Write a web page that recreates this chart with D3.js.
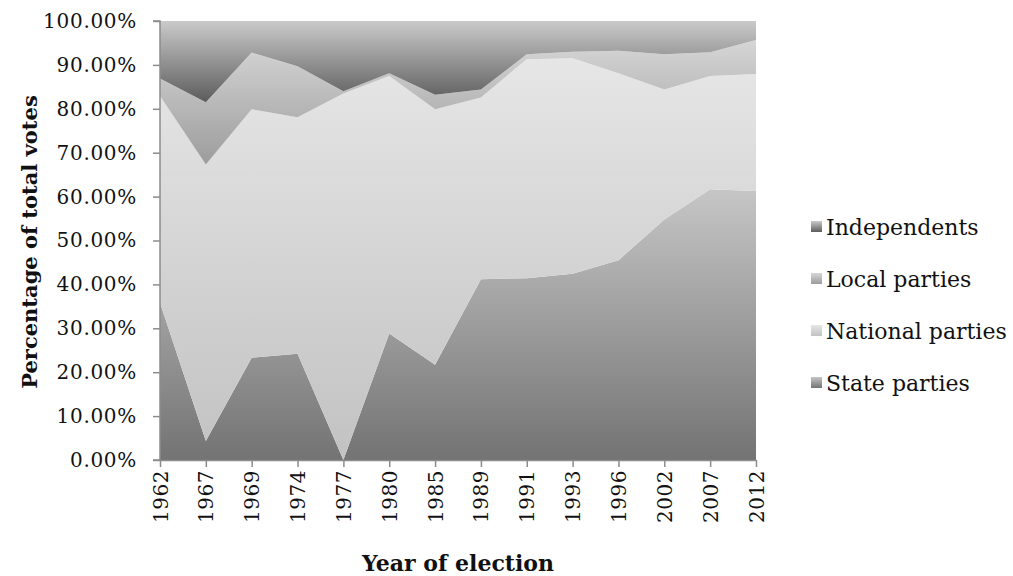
<!DOCTYPE html>
<html><head><meta charset="utf-8">
<script src="https://cdn.jsdelivr.net/npm/d3@7"></script>
<style>
html,body{margin:0;padding:0;background:#fff;}
svg text{font-family:"DejaVu Serif","Liberation Serif",serif;fill:#111;}
</style></head>
<body>
<svg id="chart" width="1013" height="576"></svg>
<script>
const years = ["1962","1967","1969","1974","1977","1980","1985","1989","1991","1993","1996","2002","2007","2012"];
const stateParties    = [35.8, 4.3, 23.3, 24.2, 0.0, 28.8, 21.7, 41.2, 41.4, 42.4, 45.5, 54.8, 61.7, 61.3];
const nationalParties = [47.1, 63.0, 56.6, 53.9, 83.5, 58.7, 58.2, 41.4, 49.9, 49.1, 42.6, 29.6, 25.8, 26.6];
const localParties    = [4.0, 14.2, 12.9, 11.6, 0.5, 0.6, 3.3, 1.8, 1.1, 1.5, 5.1, 8.0, 5.4, 7.8];
const independents    = [13.1, 18.5, 7.2, 10.3, 16.0, 11.9, 16.8, 15.6, 7.6, 7.0, 6.8, 7.6, 7.1, 4.3];
const seriesNames = ["State parties","National parties","Local parties","Independents"];
const yTicks = [0,10,20,30,40,50,60,70,80,90,100];

const rows = years.map((y,i)=>({year:y,"State parties":stateParties[i],"National parties":nationalParties[i],"Local parties":localParties[i],"Independents":independents[i]}));

const svg = d3.select("#chart");
const M = {left:160, right:756, top:21, bottom:460};
const x = d3.scalePoint().domain(years).range([M.left, M.right]).padding(0);
const y = d3.scaleLinear().domain([0,100]).range([M.bottom, M.top]);

const grads = {
  "State parties":   ["#c6c6c6","#737373"],
  "National parties":["#e6e6e6","#c2c2c2"],
  "Local parties":   ["#d6d6d6","#9c9c9c"],
  "Independents":    ["#cacaca","#5c5c5c"]
};
const defs = svg.append("defs");
Object.entries(grads).forEach(([k,c],i)=>{
  const g = defs.append("linearGradient").attr("id","g"+i).attr("x1",0).attr("y1",0).attr("x2",0).attr("y2",1);
  g.append("stop").attr("offset","0%").attr("stop-color",c[0]);
  g.append("stop").attr("offset","100%").attr("stop-color",c[1]);
});
const gid = k => "url(#g"+Object.keys(grads).indexOf(k)+")";

const stack = d3.stack().keys(seriesNames);
const layers = stack(rows);
const area = d3.area().x(d=>x(d.data.year)).y0(d=>y(d[0])).y1(d=>y(d[1]));
svg.append("g").selectAll("path").data(layers).join("path")
  .attr("d",area).attr("fill",d=>gid(d.key));

// axes
const axisColor = "#8c8c8c";
const yAxis = svg.append("g").attr("transform",`translate(${M.left},0)`)
  .call(d3.axisLeft(y).tickValues(yTicks).tickSize(7).tickPadding(16).tickFormat(d=>d.toFixed(2)+"%"));
const xAxis = svg.append("g").attr("transform",`translate(0,${M.bottom})`)
  .call(d3.axisBottom(x).tickSize(7).tickSizeOuter(0));
[yAxis,xAxis].forEach(a=>{
  a.select(".domain").attr("stroke",axisColor).attr("stroke-width",1.5);
  a.selectAll(".tick line").attr("stroke",axisColor).attr("stroke-width",1.5);
});
yAxis.select(".domain").attr("d",`M-7,${M.top}H0V${M.bottom}H-7`);
yAxis.selectAll(".tick text").style("font-size","20px").style("letter-spacing","0.7px").attr("fill","#111");
xAxis.selectAll(".tick text").style("font-size","20px").style("letter-spacing","0.5px").attr("fill","#111")
  .attr("transform","rotate(-90)").attr("text-anchor","end").attr("x",-10).attr("y",0).attr("dy","0.35em");

// titles
svg.append("text").attr("x",458).attr("y",571).attr("text-anchor","middle")
  .style("font-size","22px").style("font-weight","bold").text("Year of election");
svg.append("text").attr("transform","translate(37,242) rotate(-90)").attr("text-anchor","middle")
  .style("font-size","21px").style("font-weight","bold").text("Percentage of total votes");

// legend
const legendOrder = ["Independents","Local parties","National parties","State parties"];
const lg = svg.append("g").selectAll("g").data(legendOrder).join("g")
  .attr("transform",(d,i)=>`translate(811,${227+i*52})`);
lg.append("rect").attr("x",0).attr("y",-6).attr("width",11).attr("height",11).attr("fill",d=>gid(d));
lg.append("text").attr("x",15).attr("y",0).attr("dy","0.35em").style("font-size","22px").text(d=>d);
</script>
</body></html>
